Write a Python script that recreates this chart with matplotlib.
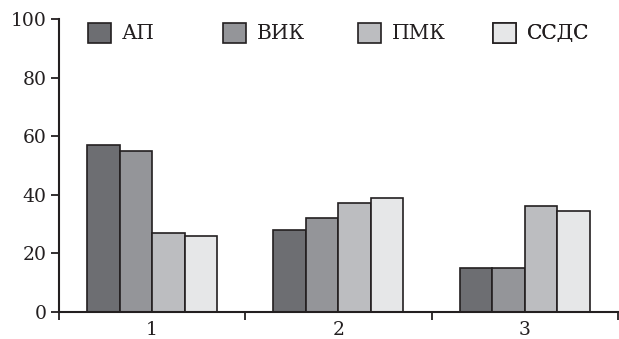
import numpy as np
import matplotlib
matplotlib.use("Agg")
import matplotlib.pyplot as plt

groups = ["1", "2", "3"]
series = ["АП", "ВИК", "ПМК", "ССДС"]
ap = [57, 28, 15]
vik = [55, 32, 15]
pmk = [27, 37, 36]
ssds = [26, 39, 34.5]
values = [ap, vik, pmk, ssds]
colors = ["#6d6e72", "#949599", "#bcbdc0", "#e6e7e8"]
edge = "#231f20"

plt.rcParams["font.family"] = ["DejaVu Serif"]

fig = plt.figure(figsize=(6.19, 3.39), dpi=100)
ax = fig.add_axes([0.0953, 0.0805, 0.9027, 0.8635])

x = np.arange(1, len(groups) + 1)
w = 0.1745
handles = []
for i, (vals, c) in enumerate(zip(values, colors)):
    b = ax.bar(x + (i - 1.5) * w, vals, width=w, color=c,
               edgecolor=edge, linewidth=1.2, label=series[i])
    handles.append(b)

ax.set_xlim(0.5, 3.5)
ax.set_ylim(0, 100)
ax.set_yticks([0, 20, 40, 60, 80, 100])
ax.set_xticks(x)
ax.set_xticklabels(groups)
ax.set_xticks([0.5, 1.5, 2.5, 3.5], minor=True)

for s in ["top", "right"]:
    ax.spines[s].set_visible(False)
for s in ["left", "bottom"]:
    ax.spines[s].set_linewidth(1.5)
    ax.spines[s].set_color(edge)

ax.tick_params(axis="y", direction="out", length=6, width=1.3, color=edge,
               labelsize=13.5, pad=3, labelcolor=edge)
ax.tick_params(axis="x", which="major", length=0, labelsize=13.5, pad=7,
               labelcolor=edge)
ax.tick_params(axis="x", which="minor", direction="out", length=6,
               width=1.3, color=edge)

# legend entries evenly spaced in one row
for i, h in enumerate(handles):
    leg = ax.legend([h], [series[i]], loc="center left",
                    bbox_to_anchor=(0.0519 + i * 0.2415, 0.952),
                    bbox_transform=ax.transAxes, frameon=False,
                    fontsize=14.5, handlelength=1.15, handleheight=1.15,
                    handletextpad=0.55, borderpad=0, borderaxespad=0,
                    labelcolor=edge)
    ax.add_artist(leg)

fig.savefig("out.png", dpi=100)
